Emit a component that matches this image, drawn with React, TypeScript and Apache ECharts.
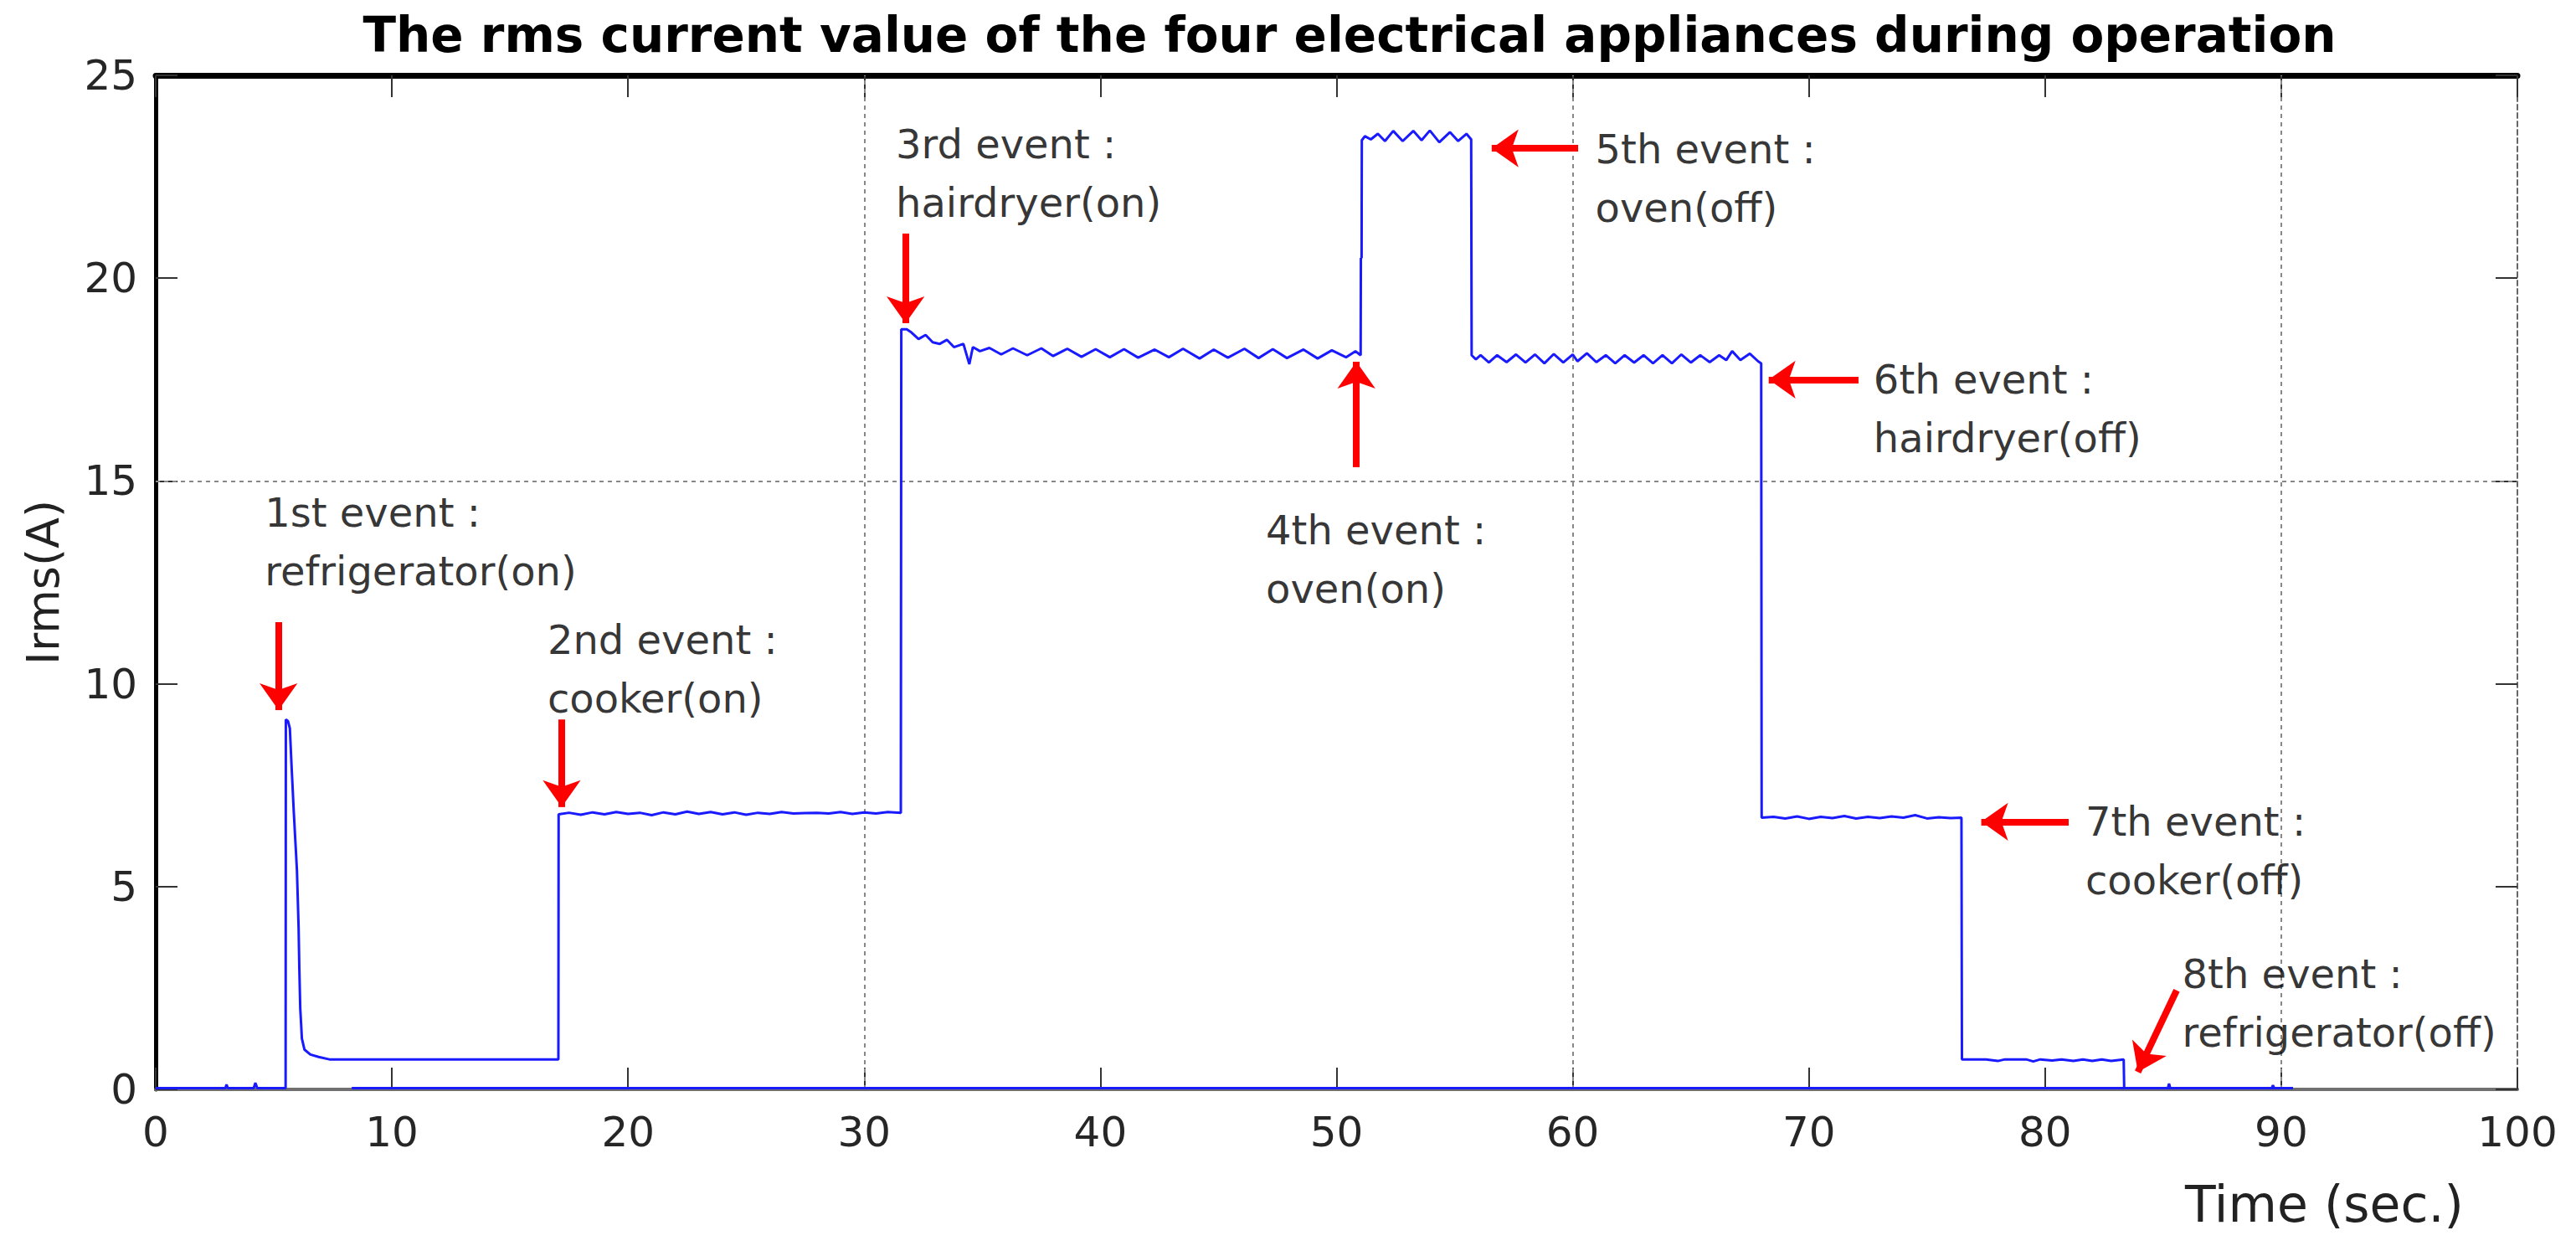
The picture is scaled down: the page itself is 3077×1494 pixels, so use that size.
import React, { useEffect, useRef } from "react";
import * as echarts from "echarts";

// ---- data (time in s, Irms in A) ----
const standbyStart: number[][] = [[0, 0.03], [2.95, 0.03], [3.0, 0.12], [3.05, 0.03], [4.15, 0.03], [4.22, 0.16], [4.3, 0.03], [5.5, 0.03]];
const fridgeOn: number[][] = [[5.51, 9.12], [5.6, 9.08], [5.68, 8.9], [5.75, 8.0], [5.85, 6.8], [5.98, 5.4], [6.05, 4.0], [6.08, 3.0], [6.12, 2.0], [6.19, 1.25], [6.3, 0.98], [6.55, 0.86], [6.9, 0.8], [7.35, 0.74], [17.05, 0.74]];
const cookerOn: number[][] = [[17.06, 6.78], [17.5, 6.82], [18.0, 6.77], [18.5, 6.83], [19.0, 6.78], [19.5, 6.84], [20.0, 6.79], [20.5, 6.82], [21.0, 6.76], [21.5, 6.83], [22.0, 6.78], [22.5, 6.85], [23.0, 6.79], [23.5, 6.84], [24.0, 6.78], [24.5, 6.83], [25.0, 6.77], [25.5, 6.82], [26.0, 6.79], [26.5, 6.84], [27.0, 6.8], [27.5, 6.81], [28.0, 6.82], [28.5, 6.8], [29.0, 6.84], [29.5, 6.79], [30.0, 6.83], [30.5, 6.8], [31.0, 6.84], [31.55, 6.82]];
const hairdryerOn: number[][] = [[31.57, 18.74], [31.8, 18.74], [32.0, 18.66], [32.3, 18.5], [32.6, 18.6], [32.9, 18.42], [33.2, 18.38], [33.5, 18.48], [33.8, 18.3], [34.2, 18.38], [34.45, 17.88], [34.6, 18.3], [34.9, 18.2], [35.3, 18.28], [35.8, 18.12], [36.3, 18.27], [36.9, 18.1], [37.5, 18.27], [38.0, 18.08], [38.6, 18.26], [39.2, 18.06], [39.8, 18.25], [40.4, 18.05], [41.0, 18.25], [41.6, 18.04], [42.3, 18.24], [42.9, 18.05], [43.5, 18.26], [44.2, 18.02], [44.8, 18.24], [45.4, 18.04], [46.1, 18.26], [46.7, 18.03], [47.3, 18.25], [47.9, 18.03], [48.6, 18.24], [49.2, 18.02], [49.8, 18.22], [50.4, 18.05], [50.8, 18.2], [51.02, 18.1]];
const ovenOn: number[][] = [[51.03, 20.5], [51.06, 20.5], [51.07, 23.4], [51.2, 23.5], [51.45, 23.42], [51.75, 23.56], [52.05, 23.38], [52.4, 23.63], [52.8, 23.38], [53.25, 23.63], [53.6, 23.4], [53.95, 23.64], [54.35, 23.35], [54.8, 23.6], [55.15, 23.38], [55.5, 23.56], [55.7, 23.42]];
const ovenOff: number[][] = [[55.72, 18.1], [55.9, 18.0], [56.1, 18.1], [56.45, 17.92], [56.8, 18.1], [57.2, 17.93], [57.6, 18.12], [58.0, 17.92], [58.4, 18.12], [58.8, 17.9], [59.2, 18.13], [59.6, 17.92], [60.0, 18.12], [60.2, 17.95], [60.6, 18.15], [61.0, 17.93], [61.4, 18.1], [61.8, 17.9], [62.2, 18.1], [62.6, 17.92], [63.0, 18.1], [63.4, 17.9], [63.8, 18.1], [64.2, 17.9], [64.6, 18.12], [65.0, 17.92], [65.4, 18.1], [65.8, 17.93], [66.2, 18.1], [66.5, 17.98], [66.75, 18.2], [67.1, 17.98], [67.5, 18.14], [67.85, 17.95], [67.98, 17.9]];
const hairdryerOff: number[][] = [[68.0, 6.7], [68.5, 6.72], [69.0, 6.68], [69.5, 6.73], [70.0, 6.67], [70.5, 6.72], [71.0, 6.69], [71.5, 6.74], [72.0, 6.68], [72.5, 6.72], [73.0, 6.69], [73.5, 6.73], [74.0, 6.7], [74.5, 6.76], [75.0, 6.68], [75.5, 6.71], [76.0, 6.69], [76.46, 6.7]];
const cookerOff: number[][] = [[76.48, 0.74], [77.5, 0.74], [78.0, 0.7], [78.3, 0.74], [79.2, 0.74], [79.5, 0.69], [79.8, 0.74], [80.3, 0.71], [80.7, 0.74], [81.2, 0.7], [81.6, 0.74], [82.0, 0.7], [82.4, 0.74], [82.8, 0.7], [83.33, 0.74]];
const fridgeOff: number[][] = [[83.35, 0.03], [85.2, 0.03], [85.25, 0.14], [85.3, 0.03], [89.6, 0.03], [89.65, 0.1], [89.7, 0.03], [90.5, 0.03]];
const baselineTrace: number[][] = [[8.3, 0.03], [90.5, 0.03]];

const xTicks = [0, 10, 20, 30, 40, 50, 60, 70, 80, 90, 100];
const yTicks = [0, 5, 10, 15, 20, 25];
const gridX = [30, 60, 90];
const gridY = [15];

const eventLabels = [
  "1st event :\nrefrigerator(on)",
  "2nd event :\ncooker(on)",
  "3rd event :\nhairdryer(on)",
  "4th event :\noven(on)",
  "5th event :\noven(off)",
  "6th event :\nhairdryer(off)",
  "7th event :\ncooker(off)",
  "8th event :\nrefrigerator(off)",
];
const eventLabelX = [4.58, 16.55, 31.3, 46.97, 60.92, 72.7, 81.67, 85.77];
const eventLabelY = [13.5, 10.37, 22.58, 13.06, 22.47, 16.78, 5.88, 2.13];
// arrows: [x start, y start, x tip, y tip]
const eventArrows: number[][] = [
  [5.2, 11.52, 5.2, 9.35],
  [17.19, 9.12, 17.19, 6.96],
  [31.75, 21.1, 31.75, 18.89],
  [50.84, 15.34, 50.84, 17.94],
  [60.23, 23.2, 56.57, 23.2],
  [72.1, 17.5, 68.3, 17.5],
  [81.0, 6.6, 77.3, 6.6],
  [85.57, 2.44, 83.93, 0.43],
];

const TITLE = "The rms current value of the four electrical appliances during operation";
const FONT = "'DejaVu Sans', sans-serif";

export default function App() {
  const ref = useRef<HTMLDivElement>(null);
  useEffect(() => {
    if (!ref.current) return;
    const chart = echarts.init(ref.current, undefined, { renderer: "svg" });
    const trace = [
      ...standbyStart,
      ...fridgeOn,
      ...cookerOn,
      ...hairdryerOn,
      ...ovenOn,
      ...ovenOff,
      ...hairdryerOff,
      ...cookerOff,
      ...fridgeOff,
    ];
    const blue = "#1a1aff";
    chart.setOption({
      animation: false,
      backgroundColor: "#ffffff",
      title: {
        text: TITLE,
        left: 1607,
        top: 8,
        textAlign: "center",
        textStyle: { fontFamily: "'DejaVu Sans', sans-serif", fontWeight: "bold", fontSize: 58, color: "#000" },
      },
      grid: { left: 186, right: 70, top: 90, bottom: 193, containLabel: false },
      xAxis: [
        {
          type: "value",
          min: 0,
          max: 100,
          interval: 10,
          position: "bottom",
          axisLine: { show: true, lineStyle: { color: "#707070", width: 4 } },
          axisTick: { show: true, inside: true, length: 26, lineStyle: { color: "#333", width: 2 } },
          axisLabel: {
            fontFamily: FONT,
            fontSize: 50,
            color: "#262626",
            margin: 26,
            formatter: (v: number) => (xTicks.includes(v) ? String(v) : ""),
          },
          splitLine: { show: false },
        },
        {
          type: "value",
          min: 0,
          max: 100,
          interval: 10,
          position: "top",
          axisLine: { show: true, onZero: false, lineStyle: { color: "#000", width: 7 } },
          axisTick: { show: true, inside: true, length: 26, lineStyle: { color: "#333", width: 2 } },
          axisLabel: { show: false },
          splitLine: { show: false },
        },
      ],
      yAxis: [
        {
          type: "value",
          min: 0,
          max: 25,
          interval: 5,
          position: "left",
          name: "Irms(A)",
          nameLocation: "middle",
          nameGap: 108,
          nameTextStyle: { fontFamily: FONT, fontSize: 54, color: "#222" },
          axisLine: { show: true, onZero: false, lineStyle: { color: "#000", width: 5 } },
          axisTick: { show: true, inside: true, length: 26, lineStyle: { color: "#333", width: 2 } },
          axisLabel: {
            fontFamily: FONT,
            fontSize: 50,
            color: "#262626",
            margin: 22,
            formatter: (v: number) => (yTicks.includes(v) ? String(v) : ""),
          },
          splitLine: { show: false },
        },
        {
          type: "value",
          min: 0,
          max: 25,
          interval: 5,
          position: "right",
          axisLine: { show: true, onZero: false, lineStyle: { color: "#666", width: 2, type: [6, 4] } },
          axisTick: { show: true, inside: true, length: 26, lineStyle: { color: "#333", width: 2 } },
          axisLabel: { show: false },
          splitLine: { show: false },
        },
      ],
      graphic: [
        {
          type: "text",
          right: 134,
          top: 1408,
          style: { text: "Time (sec.)", fontFamily: FONT, fontSize: 60, fill: "#222" },
        },
      ],
      series: [
        {
          type: "line",
          name: "baseline",
          data: baselineTrace,
          showSymbol: false,
          symbol: "none",
          lineStyle: { color: blue, width: 3 },
          z: 3,
          markLine: {
            silent: true,
            symbol: ["none", "none"],
            label: { show: false },
            lineStyle: { color: "#888", width: 2, type: [5, 5] },
            data: [
              ...gridX.map((v) => ({ xAxis: v })),
              ...gridY.map((v) => ({ yAxis: v })),
            ],
            z: 1,
          },
        },
        {
          type: "line",
          name: "Irms",
          data: trace,
          showSymbol: false,
          symbol: "none",
          lineStyle: { color: blue, width: 3 },
          z: 4,
        },
        {
          type: "line",
          name: "arrows",
          data: [],
          symbol: "none",
          z: 6,
          markLine: {
            silent: true,
            symbol: ["none", "arrow"],
            symbolSize: [34, 32],
            label: { show: false },
            lineStyle: { color: "#ff0000", width: 8, type: "solid" },
            itemStyle: { color: "#ff0000" },
            data: eventArrows.map((a) => [
              { coord: [a[0], a[1]] },
              { coord: [a[2], a[3]] },
            ]),
          },
        },
        {
          type: "scatter",
          name: "events",
          data: eventLabelX.map((x, i) => [x, eventLabelY[i]]),
          symbol: "circle",
          symbolSize: 2,
          itemStyle: { color: "rgba(255,255,255,0)" },
          labelLayout: { hideOverlap: false },
          z: 7,
          label: {
            show: true,
            position: "right",
            distance: 0,
            align: "left",
            verticalAlign: "middle",
            fontFamily: FONT,
            fontSize: 48,
            lineHeight: 70,
            color: "#000",
            formatter: (p: any) => eventLabels[p.dataIndex],
          },
        },
      ],
    });
    return () => chart.dispose();
  }, []);
  return (
    <div
      ref={ref}
      style={{ position: "absolute", left: 0, top: 0, width: 3077, height: 1494, background: "#fff" }}
    />
  );
}
